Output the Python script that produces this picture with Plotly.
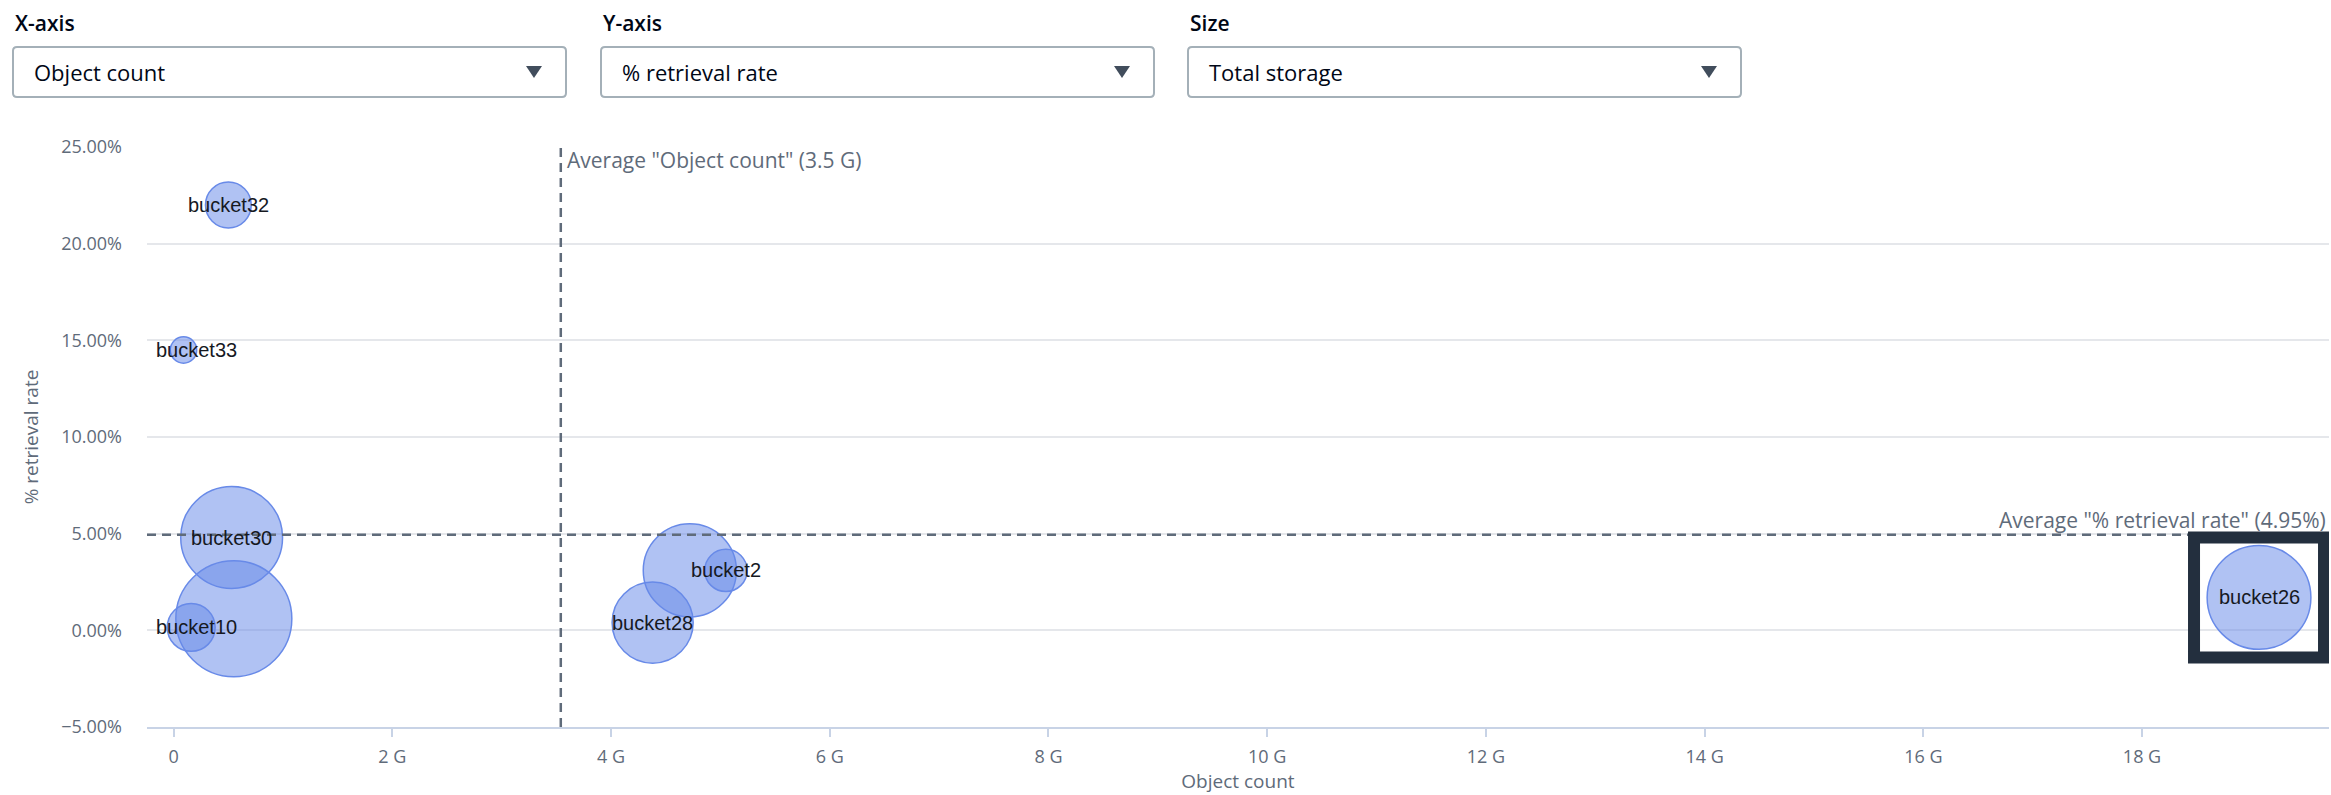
import plotly.graph_objects as go

# Buckets: object count (billions), retrieval rate (%), total storage (TB)
bucket_labels = ["bucket32", "bucket33", "bucket30", "", "bucket10",
                 "bucket28", "", "bucket2", "bucket26"]
object_count_g = [0.50, 0.09, 0.53, 0.55, 0.16, 4.38, 4.72, 5.05, 19.07]
retrieval_rate_pct = [22.0, 14.5, 4.8, 0.6, 0.15, 0.4, 3.1, 3.1, 1.7]
total_storage_tb = [21, 7, 104, 135, 23, 66, 87, 18, 108]

avg_object_count_g = 3.54
avg_retrieval_rate_pct = 4.95
selected_bucket = "bucket26"

x_tick_vals_g = [0, 2, 4, 6, 8, 10, 12, 14, 16, 18]
x_tick_text = ["0", "2 G", "4 G", "6 G", "8 G", "10 G", "12 G", "14 G", "16 G", "18 G"]
y_tick_vals = [-5, 0, 5, 10, 15, 20, 25]
y_tick_text = ["\u22125.00%", "0.00%", "5.00%", "10.00%", "15.00%", "20.00%", "25.00%"]

dropdown_captions = ["X-axis", "Y-axis", "Size"]
dropdown_values = ["Object count", "% retrieval rate", "Total storage"]

# ---- page geometry ----
W, H = 2331, 795
ML, MR, MT, MB = 147, 2, 147, 68
PW, PH = W - ML - MR, H - MT - MB
X_RANGE = [-0.244e9, 19.71e9]
Y_RANGE = [-5, 25]

FONT = "Open Sans, Noto Sans, sans-serif"
LABEL_FONT = "Liberation Sans, Arial, sans-serif"
AXIS_GREY = "#5f6b7a"
BUBBLE_BLUE = "#688ae8"


def px_x(px):
    return (px - ML) / PW


def px_y(py):
    return (H - MB - py) / PH


def data_to_px(xv):
    return ML + (xv - X_RANGE[0]) / (X_RANGE[1] - X_RANGE[0]) * PW


x_values = [v * 1e9 for v in object_count_g]
max_diameter_px = 116
sizeref = 2.0 * max(total_storage_tb) / max_diameter_px ** 2

fig = go.Figure()
fig.add_trace(go.Scatter(
    x=x_values,
    y=retrieval_rate_pct,
    mode="markers",
    marker=dict(
        size=total_storage_tb,
        sizemode="area",
        sizeref=sizeref,
        opacity=1,
        color="rgba(104,138,232,0.52)",
        line=dict(color=BUBBLE_BLUE, width=1.5),
    ),
    hoverinfo="skip",
    showlegend=False,
))

annotations = []
shapes = []

# bubble labels, kept inside the plotting area
label_size = 20
for lbl, xv, yv in zip(bucket_labels, x_values, retrieval_rate_pct):
    if not lbl:
        continue
    half_w = len(lbl) * 0.507 * label_size / 2
    cx = data_to_px(xv)
    shift = max(0.0, (ML + 9 + half_w) - cx)
    annotations.append(dict(
        x=xv, y=yv, xref="x", yref="y", text=lbl, showarrow=False,
        xanchor="center", yanchor="middle", xshift=shift,
        font=dict(family=LABEL_FONT, size=label_size, color="#16191f"),
    ))

# average reference lines
dash_line = dict(color=AXIS_GREY, width=2.5, dash="9px,6px")
shapes.append(dict(type="line", xref="x", yref="paper",
                   x0=avg_object_count_g * 1e9, x1=avg_object_count_g * 1e9,
                   y0=0, y1=1, line=dash_line, layer="above"))
shapes.append(dict(type="line", xref="paper", yref="y",
                   x0=0, x1=1, y0=avg_retrieval_rate_pct, y1=avg_retrieval_rate_pct,
                   line=dash_line, layer="above"))
annotations.append(dict(
    x=avg_object_count_g * 1e9, y=1, xref="x", yref="paper",
    text=f'Average "Object count" ({avg_object_count_g:.1f} G)', showarrow=False,
    xanchor="left", yanchor="top", xshift=4, yshift=3,
    font=dict(family=FONT, size=21, color=AXIS_GREY),
))
annotations.append(dict(
    x=1, y=avg_retrieval_rate_pct, xref="paper", yref="y",
    text=f'Average "% retrieval rate" ({avg_retrieval_rate_pct:.2f}%)', showarrow=False,
    xanchor="right", yanchor="bottom", xshift=-1, yshift=-1,
    font=dict(family=FONT, size=21, color=AXIS_GREY),
))

# highlight frame around the selected bucket
sel = bucket_labels.index(selected_bucket)
shapes.append(dict(
    type="rect", xref="x", yref="y",
    xsizemode="pixel", ysizemode="pixel",
    xanchor=x_values[sel], yanchor=retrieval_rate_pct[sel],
    x0=-65, x1=65, y0=-60, y1=60,
    line=dict(color="#232f3e", width=12), fillcolor="rgba(0,0,0,0)", layer="above",
))

# selector controls above the chart
box_lefts = [13, 601, 1188]
box_width = 553
box_top, box_bottom = 47, 97
for cap, val, left in zip(dropdown_captions, dropdown_values, box_lefts):
    right = left + box_width
    r = 4
    pts = [
        ("M", left + r, box_top), ("L", right - r, box_top),
        ("Q", right, box_top, right, box_top + r), ("L", right, box_bottom - r),
        ("Q", right, box_bottom, right - r, box_bottom), ("L", left + r, box_bottom),
        ("Q", left, box_bottom, left, box_bottom - r), ("L", left, box_top + r),
        ("Q", left, box_top, left + r, box_top),
    ]
    path = ""
    for p in pts:
        cmd, coords = p[0], p[1:]
        xy = []
        for i in range(0, len(coords), 2):
            xy.append(f"{px_x(coords[i]):.6f},{px_y(coords[i + 1]):.6f}")
        path += cmd + " " + " ".join(xy) + " "
    path += "Z"
    shapes.append(dict(type="path", xref="paper", yref="paper", path=path,
                       line=dict(color="#a4b0b8", width=2), fillcolor="white", layer="above"))
    # caret
    cx, cy = right - 32, 72
    tri = (f"M {px_x(cx - 8):.6f},{px_y(cy - 6):.6f} "
           f"L {px_x(cx + 8):.6f},{px_y(cy - 6):.6f} "
           f"L {px_x(cx):.6f},{px_y(cy + 6):.6f} Z")
    shapes.append(dict(type="path", xref="paper", yref="paper", path=tri,
                       line=dict(color="#414d5c", width=0), fillcolor="#414d5c", layer="above"))
    annotations.append(dict(
        x=px_x(left), y=px_y(23), xref="paper", yref="paper", text=cap,
        showarrow=False, xanchor="left", yanchor="middle",
        font=dict(family=FONT, size=21, color="#000716", weight=600),
    ))
    annotations.append(dict(
        x=px_x(left + 19), y=px_y(72), xref="paper", yref="paper", text=val,
        showarrow=False, xanchor="left", yanchor="middle",
        font=dict(family=FONT, size=22, color="#000716"),
    ))

fig.update_layout(
    width=W, height=H,
    margin=dict(l=ML, r=MR, t=MT, b=MB, autoexpand=False),
    paper_bgcolor="white", plot_bgcolor="white",
    font=dict(family=FONT, color=AXIS_GREY),
    shapes=shapes, annotations=annotations,
    xaxis=dict(
        range=X_RANGE, tickvals=[v * 1e9 for v in x_tick_vals_g], ticktext=x_tick_text,
        showgrid=False, zeroline=False, showline=True, linecolor="#c8d3e6", linewidth=2,
        ticks="outside", ticklen=8, tickwidth=1.5, tickcolor="#c8d3e6",
        ticklabelstandoff=4,
        tickfont=dict(family=FONT, size=18, color=AXIS_GREY),
        title=dict(text="Object count", standoff=8,
                   font=dict(family=FONT, size=19, color=AXIS_GREY)),
        automargin=False, fixedrange=True,
    ),
    yaxis=dict(
        range=Y_RANGE, tickvals=y_tick_vals, ticktext=y_tick_text,
        showgrid=True, gridcolor="#e5e7eb", gridwidth=1.5, zeroline=False,
        showline=False, ticks="", ticklabelstandoff=24,
        tickfont=dict(family=FONT, size=18, color=AXIS_GREY),
        title=dict(text="% retrieval rate", standoff=17,
                   font=dict(family=FONT, size=19, color=AXIS_GREY)),
        automargin=False, fixedrange=True,
    ),
)

fig.write_html("out.html", config={"displayModeBar": False})
